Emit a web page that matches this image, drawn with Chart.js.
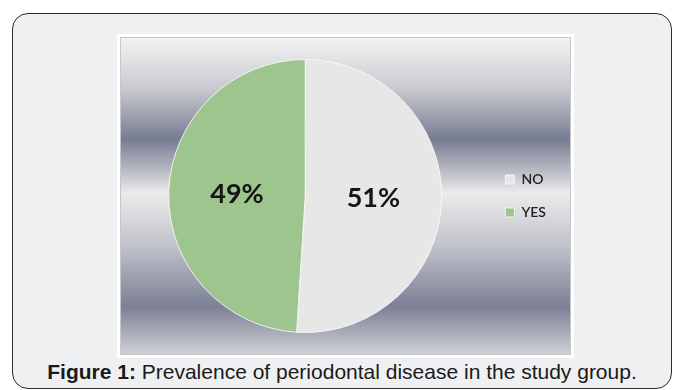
<!DOCTYPE html>
<html>
<head>
<meta charset="utf-8">
<script src="https://cdn.jsdelivr.net/npm/chart.js@4"></script>
<style>
  html, body { margin: 0; padding: 0; background: #ffffff; }
  body { width: 673px; height: 390px; position: relative; overflow: hidden; }
  .card {
    position: absolute; left: 12px; top: 13px; width: 660px; height: 376px;
    box-sizing: border-box; border: 1.5px solid #2b2b2b; border-radius: 16px;
    background: #eff0f2;
  }
  .frame {
    position: absolute; left: 117px; top: 34px; width: 457px; height: 324px;
    box-sizing: border-box; padding: 3px; background: #ffffff;
  }
  .plot {
    width: 100%; height: 100%; box-sizing: border-box; border: 1px solid #c6c7ca;
    background: linear-gradient(to bottom,
      #f3f3f3 0%, #c9cad0 16%, #777c92 32%, #b9bbc4 42%, #ebebeb 49%,
      #c3c5cc 65%, #7b8095 85%, #cfd0d5 100%);
  }
  .plot canvas { display: block; }
  .caption {
    position: absolute; left: 12px; width: 660px; top: 360px; text-align: center;
    font-family: "Liberation Sans", Arial, sans-serif; font-size: 21px; color: #1a1a1a;
  }
</style>
</head>
<body>
<div class="card"></div>
<div class="frame"><div class="plot"><canvas id="c" width="449" height="316"></canvas></div></div>
<div class="caption"><b>Figure 1:</b> Prevalence of periodontal disease in the study group.</div>
<script>
// Periodontal disease status in the study group (percent)
const categories = ["NO", "YES"];
const shares = [51, 49];
const sliceColors = ["#e7e7e7", "#9ec58e"];

// Writes each slice's percentage at the middle of the slice
const sliceLabels = {
  id: "sliceLabels",
  afterDatasetsDraw(chart) {
    const ctx = chart.ctx;
    const meta = chart.getDatasetMeta(0);
    ctx.save();
    ctx.font = "bold 27px Lato, 'Open Sans', sans-serif";
    ctx.fillStyle = "#151515";
    ctx.textAlign = "center";
    ctx.textBaseline = "middle";
    meta.data.forEach((arc, i) => {
      const p = arc.getCenterPoint();
      ctx.fillText(shares[i] + "%", p.x, p.y);
    });
    ctx.restore();
  }
};

new Chart(document.getElementById("c"), {
  type: "pie",
  data: {
    labels: categories,
    datasets: [{
      data: shares,
      backgroundColor: sliceColors,
      borderColor: "rgba(250,250,250,0.85)",
      borderWidth: 1
    }]
  },
  options: {
    responsive: false,
    animation: false,
    layout: { padding: { left: 3, right: 14, top: 21, bottom: 21 } },
    plugins: {
      tooltip: { enabled: false },
      legend: {
        position: "right",
        labels: {
          boxWidth: 9,
          boxHeight: 9,
          padding: 19,
          color: "#222222",
          font: { family: "Lato, 'Open Sans', sans-serif", size: 14, weight: "600" }
        }
      }
    }
  },
  plugins: [sliceLabels]
});
</script>
</body>
</html>
